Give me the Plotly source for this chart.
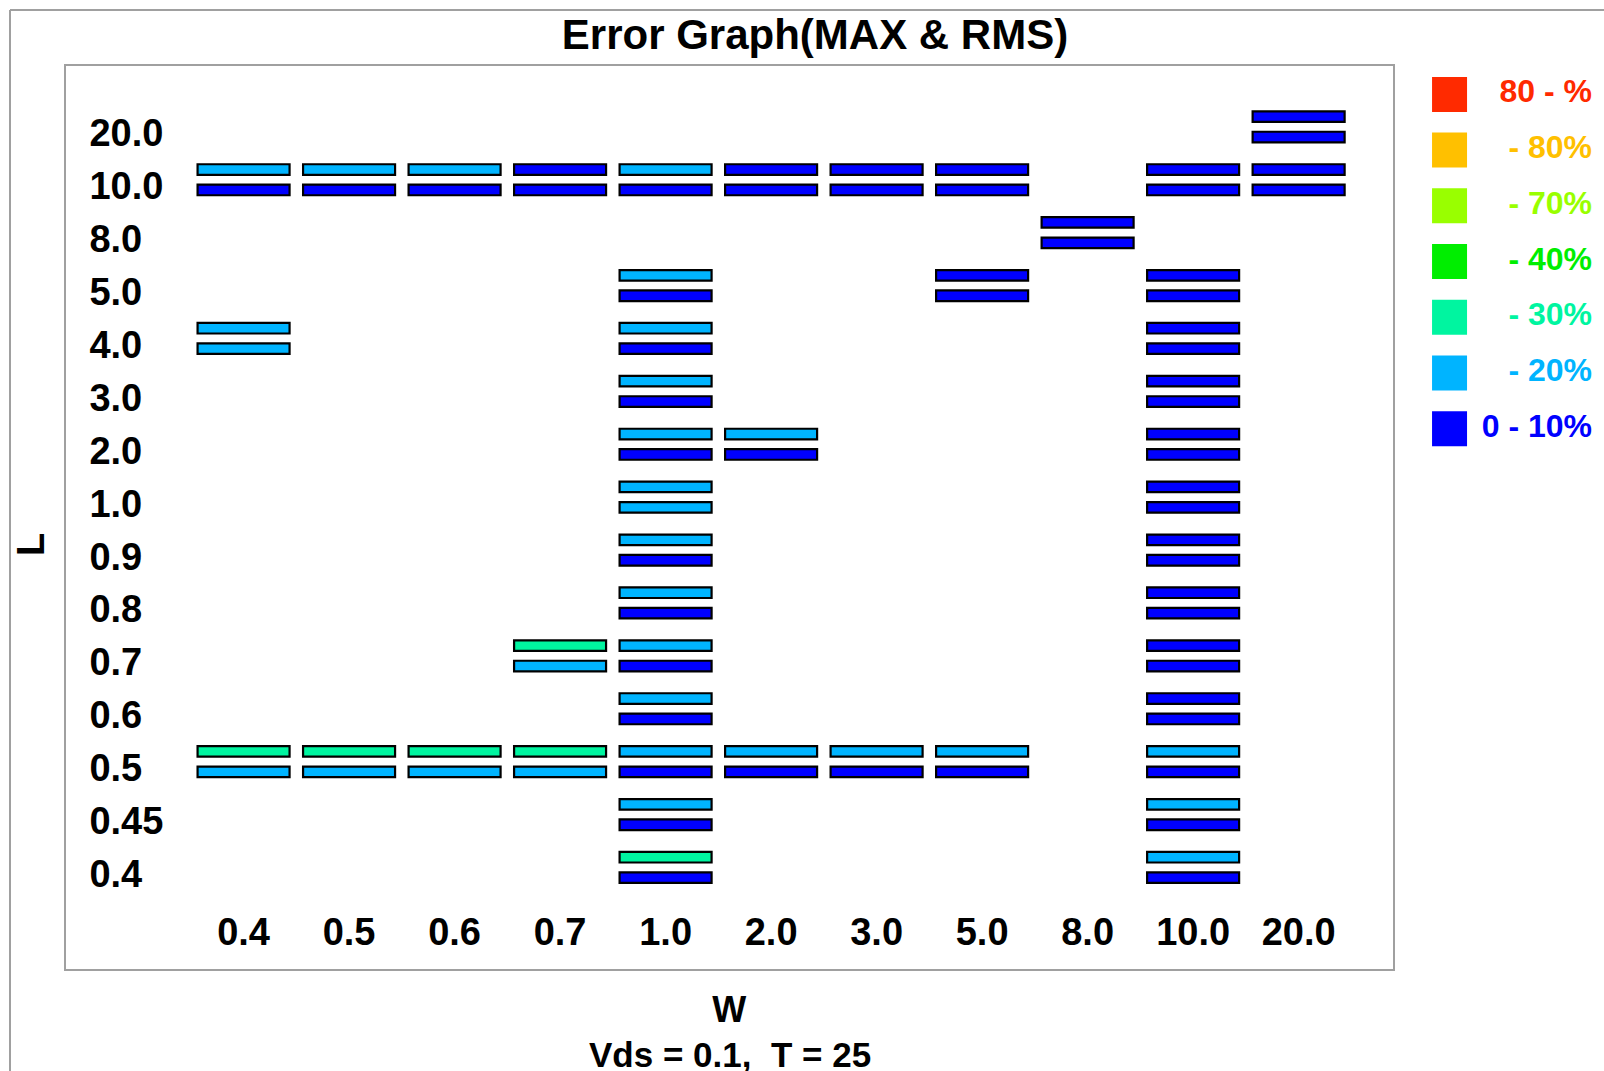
import plotly.graph_objects as go

# Category axes: channel width W (columns) and length L (rows, bottom to top)
W_LABELS = ["0.4", "0.5", "0.6", "0.7", "1.0", "2.0", "3.0", "5.0", "8.0", "10.0", "20.0"]
L_LABELS = ["0.4", "0.45", "0.5", "0.6", "0.7", "0.8", "0.9", "1.0",
            "2.0", "3.0", "4.0", "5.0", "8.0", "10.0", "20.0"]

# Error bands, from best to worst
BAND_NAMES = ["0 - 10%", " - 20%", " - 30%", " - 40%", " - 70%", " - 80%", "80 - %"]
BAND_COLORS = ["#0000FF", "#00B4FF", "#00F5A0", "#00EE00", "#99FF00", "#FFC000", "#FF2A00"]

# Measured devices: (W, L) with the band index of the MAX error and the RMS error
cell_w = (["0.4"] * 3 + ["0.5"] * 2 + ["0.6"] * 2 + ["0.7"] * 3 + ["1.0"] * 13
          + ["2.0"] * 3 + ["3.0"] * 2 + ["5.0"] * 3 + ["8.0"] + ["10.0"] * 13 + ["20.0"] * 2)
cell_l = ["10.0", "4.0", "0.5",
          "10.0", "0.5",
          "10.0", "0.5",
          "10.0", "0.7", "0.5",
          "10.0", "5.0", "4.0", "3.0", "2.0", "1.0", "0.9", "0.8", "0.7", "0.6", "0.5", "0.45", "0.4",
          "10.0", "2.0", "0.5",
          "10.0", "0.5",
          "10.0", "5.0", "0.5",
          "8.0",
          "10.0", "5.0", "4.0", "3.0", "2.0", "1.0", "0.9", "0.8", "0.7", "0.6", "0.5", "0.45", "0.4",
          "20.0", "10.0"]
max_band = [1, 1, 2,
            1, 2,
            1, 2,
            0, 2, 2,
            1, 1, 1, 1, 1, 1, 1, 1, 1, 1, 1, 1, 2,
            0, 1, 1,
            0, 1,
            0, 0, 1,
            0,
            0, 0, 0, 0, 0, 0, 0, 0, 0, 0, 1, 1, 1,
            0, 0]
rms_band = [0, 1, 1,
            0, 1,
            0, 1,
            0, 1, 1,
            0, 0, 0, 0, 0, 1, 0, 0, 0, 0, 0, 0, 0,
            0, 0, 0,
            0, 0,
            0, 0, 0,
            0,
            0, 0, 0, 0, 0, 0, 0, 0, 0, 0, 0, 0, 0,
            0, 0]

FONT = "Liberation Sans, Arial, sans-serif"
BAR_LEN = 0.872      # bar length along W (category units)
BAR_THICK = 0.2      # bar thickness along L (category units)
MAX_OFFSET = 0.31    # MAX bar sits above the row centre
RMS_OFFSET = -0.076  # RMS bar sits just below it

bar_y, bar_base, bar_color = [], [], []
for w, l, mb, rb in zip(cell_w, cell_l, max_band, rms_band):
    xi = W_LABELS.index(w)
    yi = L_LABELS.index(l)
    for off, band in ((MAX_OFFSET, mb), (RMS_OFFSET, rb)):
        bar_y.append(yi + off)
        bar_base.append(xi - BAR_LEN / 2)
        bar_color.append(BAND_COLORS[band])

fig = go.Figure()
fig.add_trace(go.Bar(
    orientation="h",
    y=bar_y,
    x=[BAR_LEN] * len(bar_y),
    base=bar_base,
    width=BAR_THICK,
    marker=dict(color=bar_color, line=dict(color="black", width=2.2)),
    hoverinfo="skip",
    showlegend=False,
))

# Colour key on its own pixel-like axes at the right
key_names = BAND_NAMES[::-1]
key_colors = BAND_COLORS[::-1]
key_rows = list(range(len(key_names)))
fig.add_trace(go.Scatter(
    x=[1449.5] * len(key_rows), y=key_rows, mode="markers",
    marker=dict(symbol="square", size=35, color=key_colors, line=dict(width=0)),
    xaxis="x2", yaxis="y2", hoverinfo="skip", showlegend=False,
))
fig.add_trace(go.Scatter(
    x=[1592] * len(key_rows), y=key_rows, mode="text",
    text=key_names, textposition="middle left",
    textfont=dict(family=FONT, size=32, color=key_colors, weight="bold"),
    xaxis="x2", yaxis="y2", hoverinfo="skip", showlegend=False,
))

axis_common = dict(
    showgrid=False, zeroline=False, ticks="",
    showline=True, mirror=True, linecolor="#a0a0a0", linewidth=2,
    ticklabelposition="inside", fixedrange=True,
)

fig.update_layout(
    width=1604, height=1071,
    margin=dict(l=66, r=0, t=66, b=102),
    paper_bgcolor="white", plot_bgcolor="white",
    barmode="overlay",
    font=dict(family=FONT, color="black"),
    title=dict(
        text="Error Graph(MAX & RMS)",
        x=815 / 1604, xref="container", xanchor="center",
        y=1 - 34 / 1071, yref="container", yanchor="middle",
        font=dict(family=FONT, size=42, color="black", weight="bold"),
    ),
    xaxis=dict(
        domain=[0, 0.8625], range=[-1.683, 10.89],
        tickmode="array", tickvals=list(range(len(W_LABELS))), ticktext=W_LABELS,
        tickfont=dict(family=FONT, size=38, color="black", weight="bold"),
        ticklabelstandoff=21,
        title=dict(text="W", standoff=45,
                   font=dict(family=FONT, size=36, color="black", weight="bold")),
        **axis_common,
    ),
    yaxis=dict(
        range=[-1.803, 15.267],
        tickmode="array", tickvals=list(range(len(L_LABELS))), ticktext=L_LABELS,
        tickfont=dict(family=FONT, size=38, color="black", weight="bold"),
        ticklabelstandoff=28,
        **axis_common,
    ),
    xaxis2=dict(domain=[0.8804, 1], range=[1420, 1604], visible=False,
                anchor="y2", fixedrange=True),
    yaxis2=dict(domain=[0, 1], range=[15.70, -0.51], visible=False,
                anchor="x2", fixedrange=True),
    annotations=[
        dict(
            text="L", textangle=-90,
            xref="paper", yref="paper", x=(31 - 66) / 1538, y=(969 - 545) / 903,
            xanchor="center", yanchor="middle", showarrow=False,
            font=dict(family=FONT, size=38, color="black", weight="bold"),
        ),
        dict(
            text="Vds = 0.1,\u00a0 T = 25",
            xref="paper", yref="paper", x=(730 - 66) / 1538, y=(969 - 1054) / 903,
            xanchor="center", yanchor="middle", showarrow=False,
            font=dict(family=FONT, size=35, color="black", weight="bold"),
        ),
    ],
    shapes=[
        # outer panel frame (left and top edges)
        dict(type="line", xref="paper", yref="paper",
             x0=(10 - 66) / 1538, x1=(10 - 66) / 1538, y0=(969 - 10) / 903, y1=-0.2,
             line=dict(color="#a0a0a0", width=2)),
        dict(type="line", xref="paper", yref="paper",
             x0=(10 - 66) / 1538, x1=1.05, y0=(969 - 10) / 903, y1=(969 - 10) / 903,
             line=dict(color="#a0a0a0", width=2)),
    ],
)

fig.write_html("out.html")
